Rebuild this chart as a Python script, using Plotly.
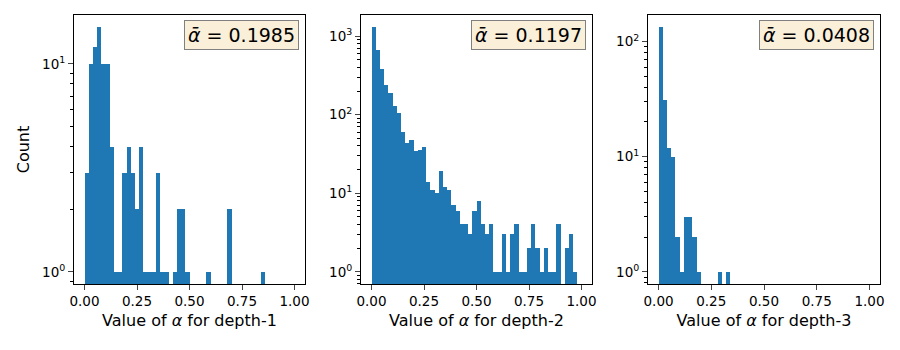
import numpy as np
import plotly.graph_objects as go

# histogram counts, 50 bins of width 0.02 on [0, 1]
bin_width = 0.02
depth1_counts = [3, 10, 12, 15, 10, 10, 4, 1, 1, 3,
                 4, 3, 2, 4, 1, 1, 1, 3, 1, 1,
                 0, 1, 2, 2, 1, 0, 0, 0, 0, 1,
                 0, 0, 0, 0, 2, 0, 0, 0, 0, 0,
                 0, 0, 1, 0, 0, 0, 0, 0, 0, 0]
depth2_counts = [1300, 670, 385, 240, 190, 130, 105, 61, 44, 48,
                 35, 36, 39, 14, 11, 10, 19, 12, 11, 7,
                 6, 4, 4, 3, 6, 8, 4, 3, 4, 1,
                 1, 3, 1, 3, 4, 1, 1, 2, 4, 2,
                 1, 2, 1, 1, 4, 0, 2, 3, 1, 0]
depth3_counts = [133, 31, 12, 10, 2, 1, 3, 3, 2, 1,
                 0, 0, 0, 0, 1, 0, 1, 0, 0, 0,
                 0, 0, 0, 0, 0, 0, 0, 0, 0, 0,
                 0, 0, 0, 0, 0, 0, 0, 0, 0, 0,
                 0, 0, 0, 0, 0, 0, 0, 0, 0, 0]
mean_alpha = ["0.1985", "0.1197", "0.0408"]
depth_names = ["depth-1", "depth-2", "depth-3"]
x_ticks = [0, 0.25, 0.5, 0.75, 1.0]
x_ticklabels = ["0.00", "0.25", "0.50", "0.75", "1.00"]

all_counts = [depth1_counts, depth2_counts, depth3_counts]
centers = np.arange(50) * bin_width + bin_width / 2

FONT = "DejaVu Sans"
# page body has an 8px margin, so the figure is 884x334 and offset by 8px
W, H, OFF = 884, 334, 8
frames_x = [(74, 305), (361, 592), (648, 880)]
x_domains = [[(a - OFF) / W, (b - OFF) / W] for a, b in frames_x]
y_domain = [1 - (284 - OFF) / H, 1 - (15 - OFF) / H]

fig = go.Figure()
for k, counts in enumerate(all_counts):
    sfx = "" if k == 0 else str(k + 1)
    xs = [c for c, n in zip(centers, counts) if n > 0]
    ys = [n for n in counts if n > 0]
    fig.add_trace(go.Bar(x=xs, y=ys, width=bin_width, marker_color="#1f77b4",
                         marker_line_width=0, showlegend=False,
                         xaxis="x" + sfx, yaxis="y" + sfx))

    top = np.log10(max(counts))
    n_dec = int(np.floor(top))
    tickvals = [10 ** d for d in range(n_dec + 1)]
    ticktext = ["10<sup>%d</sup>" % d for d in range(n_dec + 1)]
    minor_vals = [m * 10 ** d for d in range(-1, n_dec + 2) for m in range(2, 10)]

    fig.layout["xaxis" + sfx] = dict(
        domain=x_domains[k], range=[-0.05, 1.05], anchor="y" + sfx,
        automargin=False,
        tickvals=x_ticks, ticktext=x_ticklabels, ticks="outside", ticklen=5,
        showgrid=False, zeroline=False, showline=True, mirror=True,
        linecolor="black", linewidth=1, tickfont=dict(size=13.5, color="black"),
        title=dict(text="Value of <i>α</i> for " + depth_names[k],
                   font=dict(size=16, color="black"), standoff=6))
    fig.layout["yaxis" + sfx] = dict(
        domain=y_domain, type="log", anchor="x" + sfx, automargin=False,
        range=[-0.05 * top, 1.05 * top],
        tickvals=tickvals, ticktext=ticktext, ticks="outside", ticklen=5,
        minor=dict(ticks="outside", ticklen=3, tickvals=minor_vals,
                   tickcolor="black", showgrid=False),
        showgrid=False, zeroline=False, showline=True, mirror=True,
        linecolor="black", linewidth=1, tickfont=dict(size=13.5, color="black"))

    fig.add_annotation(xref="x%s domain" % sfx, yref="y%s domain" % sfx,
                       x=0.974, y=0.981, xanchor="right", yanchor="top",
                       text="<i>ᾱ</i> = " + mean_alpha[k], showarrow=False,
                       font=dict(size=19, color="black", family=FONT),
                       bgcolor="#faefd9", bordercolor="#808080", borderwidth=1,
                       borderpad=3)

fig.layout.yaxis.title = dict(text="Count", font=dict(size=16, color="black"),
                              standoff=8)

fig.update_layout(width=W, height=H, bargap=0,
                  margin=dict(l=0, r=0, t=0, b=0, autoexpand=False),
                  paper_bgcolor="white", plot_bgcolor="white",
                  font=dict(family=FONT, color="black"))

fig.write_html("out.html")
